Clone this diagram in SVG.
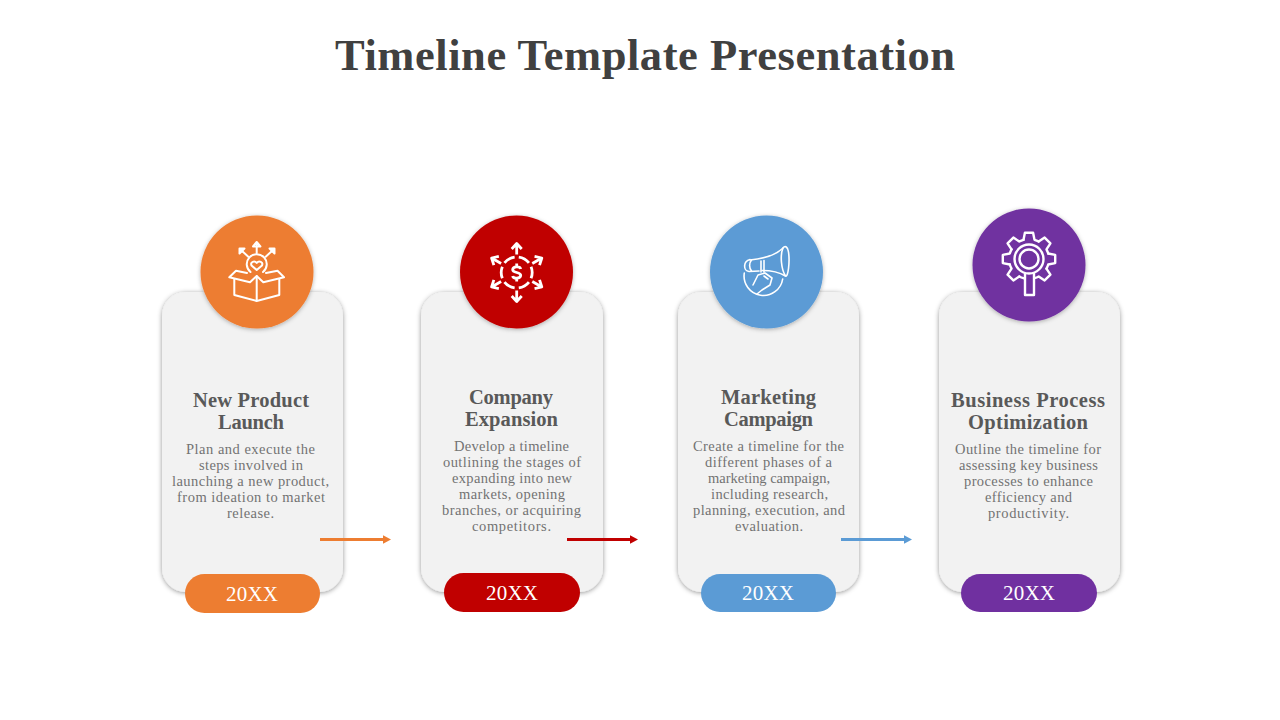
<svg xmlns="http://www.w3.org/2000/svg" xmlns:xlink="http://www.w3.org/1999/xlink" width="1280" height="720" viewBox="0 0 1280 720">
<style>
text{font-family:"Liberation Serif","DejaVu Serif",serif;text-anchor:middle}
.title{font-size:44.5px;font-weight:700;fill:#404040}
.head{font-size:20.5px;font-weight:700;fill:#595959}
.body{font-size:14.5px;fill:#737373}
.year{font-size:21px;fill:#fff}
.card{fill:#f2f2f2;filter:url(#cardShadow)}
.disc{filter:url(#discShadow)}
.ico{fill:none;stroke:#fff;stroke-width:2;stroke-linecap:round;stroke-linejoin:round}
.ico2{fill:none;stroke:#fff;stroke-width:2.8;stroke-linejoin:round}
.ico3{fill:none;stroke:#fff;stroke-width:2.4;stroke-linecap:round;stroke-linejoin:round}
.thin{fill:none;stroke:#fff;stroke-width:1.6;stroke-linecap:round;stroke-linejoin:round}
.line{fill:none;stroke-width:3}
</style>
<defs>
<filter id="cardShadow" x="-15%" y="-10%" width="130%" height="120%"><feDropShadow dx="0" dy="1" stdDeviation="2.5" flood-color="#000" flood-opacity=".42"/></filter>
<filter id="discShadow" x="-15%" y="-15%" width="130%" height="130%"><feDropShadow dx="0" dy="1" stdDeviation="2.2" flood-color="#000" flood-opacity=".3"/></filter>
<marker id="headO" markerUnits="userSpaceOnUse" markerWidth="9" markerHeight="10" refX="0" refY="5" orient="auto"><path d="M0 .8L8 5L0 9.2Z" fill="#ed7d31"/></marker>
<marker id="headR" markerUnits="userSpaceOnUse" markerWidth="9" markerHeight="10" refX="0" refY="5" orient="auto"><path d="M0 .8L8 5L0 9.2Z" fill="#c00000"/></marker>
<marker id="headB" markerUnits="userSpaceOnUse" markerWidth="9" markerHeight="10" refX="0" refY="5" orient="auto"><path d="M0 .8L8 5L0 9.2Z" fill="#5b9bd5"/></marker>
<path id="tooth" d="M-5.5-19.2L-4.1-26.2H4.1L5.5-19.2A20 20 0 0 1 9.69-17.47"/>
<path id="spoke" d="M0-18V-28M-5-23.5L0-29L5-23.5"/>
</defs>

<text class="title" x="645" y="70" textLength="620">Timeline Template Presentation</text>

<g id="node-1">
<rect class="card" x="162" y="292" width="181" height="300" rx="24"/>
<circle class="disc" cx="257" cy="272" r="56.5" fill="#ed7d31"/>
<g class="ico">
<path d="M234.3 279V295L256.7 301L279.300 295V279M256.7 301V276"/>
<path d="M256.7 276L250 282.3L229.3 277.3L236 270.7L247 273M256.7 276L263.3 282.3L284 277.3L277.5 270.7L266 273"/>
<path d="M250.5 272A10 10 0 1 1 263 272"/>
<path d="M256.700 270L251.500 265.500C250 262 254.500 260 256.700 263C259 260 263.500 262 262 265.500Z"/>
<path d="M256.700 253V243M253 246.500L256.700 242L260.400 246.500ZM248.300 256.700L241 250M239.500 253.500L239.500 248.500L244.500 248.500ZM265.700 256.700L273 250M274.500 253.500L274.500 248.500L269.500 248.500Z"/>
</g>
<rect x="185" y="574" width="135" height="39" rx="19.5" fill="#ed7d31"/>
<text class="head" x="251" y="407" textLength="116">New Product</text>
<text class="head" x="251" y="429" textLength="66">Launch</text>
<text class="body" x="250.5" y="454" textLength="129">Plan and execute the</text>
<text class="body" x="251" y="470" textLength="104">steps involved in</text>
<text class="body" x="250.5" y="486" textLength="157">launching a new product,</text>
<text class="body" x="251" y="502" textLength="148">from ideation to market</text>
<text class="body" x="250.5" y="518" textLength="47">release.</text>
<text class="year" x="252" y="601" textLength="52">20XX</text>
</g>

<g id="node-2">
<rect class="card" x="421" y="292" width="182" height="300" rx="24"/>
<circle class="disc" cx="516.5" cy="272" r="56.5" fill="#c00000"/>
<g class="ico2" transform="translate(516.7 272.5)">
<circle r="15.500" pathLength="360" stroke-dasharray="44 16" stroke-dashoffset="-38"/>
<use xlink:href="#spoke" href="#spoke"/>
<use xlink:href="#spoke" href="#spoke" transform="rotate(60)"/>
<use xlink:href="#spoke" href="#spoke" transform="rotate(120)"/>
<use xlink:href="#spoke" href="#spoke" transform="rotate(180)"/>
<use xlink:href="#spoke" href="#spoke" transform="rotate(240)"/>
<use xlink:href="#spoke" href="#spoke" transform="rotate(300)"/>
<path d="M4-3.500C3.500-6.500-4-6.500-4-2.800C-4 0.500 4-.5 4 2.800C4 6.500-3.500 6.500-4 3.500M0-9V-6M0 6V9"/>
</g>
<rect x="444" y="573" width="136" height="39" rx="19.5" fill="#c00000"/>
<text class="head" x="511" y="404" textLength="84">Company</text>
<text class="head" x="511.500" y="426" textLength="93">Expansion</text>
<text class="body" x="511.500" y="451" textLength="115">Develop a timeline</text>
<text class="body" x="512" y="467" textLength="138">outlining the stages of</text>
<text class="body" x="512" y="483" textLength="120">expanding into new</text>
<text class="body" x="512" y="499" textLength="106">markets, opening</text>
<text class="body" x="511.500" y="515" textLength="139">branches, or acquiring</text>
<text class="body" x="511.500" y="531" textLength="79">competitors.</text>
<text class="year" x="512" y="600" textLength="52">20XX</text>
</g>

<g id="node-3">
<rect class="card" x="678" y="292" width="181" height="300" rx="24"/>
<circle class="disc" cx="766.500" cy="272" r="56.5" fill="#5b9bd5"/>
<g class="thin">
<path d="M750 260C760 259 775 256 783 248M762 270.500C770 270.500 779 272 785.500 276"/>
<path d="M783 248C780 255 781 269 785.500 276C788 278 790 262 788.500 252C788 247 785 245 783 248"/>
<path d="M750 259.500C743 261 743 271 749 271.500L759 271"/>
<path d="M751.500 260C749 263 749 268 751.500 271"/>
<path d="M761 261V272M764 260.500V272"/>
<path d="M744.300 273A19 19 0 1 0 782.700 279"/>
<path d="M753 285L758 275L765 273L772 278L770 285L762 290L757 294"/>
<path d="M764 276L768 279"/>
</g>
<rect x="701" y="574" width="135" height="38" rx="19" fill="#5b9bd5"/>
<text class="head" x="768.500" y="404" textLength="95">Marketing</text>
<text class="head" x="768.500" y="426" textLength="89">Campaign</text>
<text class="body" x="768.500" y="451" textLength="151">Create a timeline for the</text>
<text class="body" x="768.500" y="467" textLength="127">different phases of a</text>
<text class="body" x="769" y="483" textLength="122">marketing campaign,</text>
<text class="body" x="769.500" y="499" textLength="117">including research,</text>
<text class="body" x="769" y="515" textLength="152">planning, execution, and</text>
<text class="body" x="769" y="531" textLength="68">evaluation.</text>
<text class="year" x="768" y="600" textLength="52">20XX</text>
</g>

<g id="node-4">
<rect class="card" x="939" y="292" width="181" height="300" rx="24"/>
<circle class="disc" cx="1029" cy="265" r="56.5" fill="#7030a0"/>
<g class="ico3" transform="translate(1029 259)">
<use xlink:href="#tooth" href="#tooth"/>
<use xlink:href="#tooth" href="#tooth" transform="rotate(45)"/>
<use xlink:href="#tooth" href="#tooth" transform="rotate(90)"/>
<use xlink:href="#tooth" href="#tooth" transform="rotate(135)"/>
<use xlink:href="#tooth" href="#tooth" transform="rotate(225)"/>
<use xlink:href="#tooth" href="#tooth" transform="rotate(270)"/>
<use xlink:href="#tooth" href="#tooth" transform="rotate(315)"/>
<path d="M-5.500 19.200A20 20 0 0 1-9.690 17.470"/>
<circle r="14.500"/>
<circle r="9.500"/>
<path d="M-4 15V36H5V15"/>
</g>
<rect x="961" y="574" width="136" height="38" rx="19" fill="#7030a0"/>
<text class="head" x="1028" y="407" textLength="154">Business Process</text>
<text class="head" x="1028" y="429" textLength="120">Optimization</text>
<text class="body" x="1028" y="454" textLength="146">Outline the timeline for</text>
<text class="body" x="1028.500" y="470" textLength="139">assessing key business</text>
<text class="body" x="1028.500" y="486" textLength="129">processes to enhance</text>
<text class="body" x="1028.500" y="502" textLength="87">efficiency and</text>
<text class="body" x="1028.500" y="518" textLength="81">productivity.</text>
<text class="year" x="1029" y="600" textLength="52">20XX</text>
</g>

<g id="connectors">
<line class="line" x1="320" y1="539.500" x2="383" y2="539.500" stroke="#ed7d31" marker-end="url(#headO)"/>
<line class="line" x1="567" y1="539.500" x2="630" y2="539.500" stroke="#c00000" marker-end="url(#headR)"/>
<line class="line" x1="841" y1="539.500" x2="904" y2="539.500" stroke="#5b9bd5" marker-end="url(#headB)"/>
</g>
</svg>
